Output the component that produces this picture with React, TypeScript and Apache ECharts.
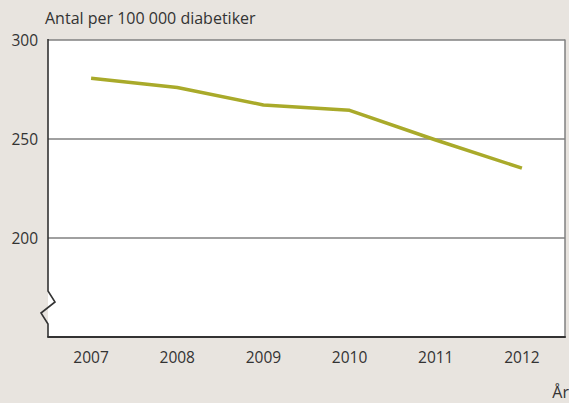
import React, { useEffect, useRef } from "react";
import * as echarts from "echarts";

const years = ["2007", "2008", "2009", "2010", "2011", "2012"];
const values = [280.7, 276, 267.2, 264.5, 249.5, 235.3];
const yTicks = [150, 200, 250, 300];

export default function App() {
  const ref = useRef<HTMLDivElement>(null);
  useEffect(() => {
    if (!ref.current) return;
    const chart = echarts.init(ref.current, null, { renderer: "svg" });
    const font = "'Open Sans', sans-serif";
    const L = 48, T = 40, R = 565, B = 337;
    chart.setOption({
      animation: false,
      backgroundColor: "#e8e4df",
      grid: {
        left: L,
        top: T,
        right: 569 - R,
        bottom: 403 - B,
        show: true,
        backgroundColor: "#ffffff",
        borderWidth: 0,
      },
      xAxis: {
        type: "category",
        data: years,
        boundaryGap: true,
        axisLine: { show: true, lineStyle: { color: "#333333", width: 2 } },
        axisTick: { show: false },
        axisLabel: { color: "#333333", fontSize: 15.5, fontFamily: font, margin: 12 },
        splitLine: { show: false },
      },
      yAxis: [
        {
          type: "value",
          min: yTicks[0],
          max: yTicks[yTicks.length - 1],
          interval: 50,
          axisLine: { show: false },
          axisTick: { show: false },
          axisLabel: {
            color: "#333333",
            fontSize: 15.5,
            fontFamily: font,
            margin: 10,
            formatter: (v: number) => (v === yTicks[0] ? "" : String(v)),
          },
          splitLine: { show: true, lineStyle: { color: "#808080", width: 1.5 } },
        },
        {
          type: "value",
          position: "right",
          min: yTicks[0],
          max: yTicks[yTicks.length - 1],
          interval: 50,
          axisLine: { show: true, lineStyle: { color: "#808080", width: 1.5 } },
          axisTick: { show: false },
          axisLabel: { show: false },
          splitLine: { show: false },
        },
      ],
      series: [
        {
          type: "line",
          data: values,
          yAxisIndex: 0,
          symbol: "none",
          lineStyle: { color: "#a9aa2a", width: 3.5 },
          z: 3,
        },
      ],
      graphic: [
        {
          type: "polyline",
          shape: {
            points: [
              [L, T - 1],
              [L, 291],
              [55, 302],
              [41, 313],
              [L, 324],
              [L, B],
            ],
          },
          style: { stroke: "#333333", lineWidth: 1.6, fill: null },
          z: 10,
        },
        {
          type: "text",
          left: 45,
          top: 10,
          style: {
            text: "Antal per 100 000 diabetiker",
            fill: "#333333",
            fontSize: 16,
            fontFamily: font,
          },
        },
        {
          type: "text",
          right: 0,
          top: 384,
          style: { text: "År", fill: "#333333", fontSize: 16, fontFamily: font },
        },
      ],
    });
    return () => chart.dispose();
  }, []);
  return (
    <div
      ref={ref}
      style={{ position: "fixed", left: 0, top: 0, width: 569, height: 403 }}
    />
  );
}
